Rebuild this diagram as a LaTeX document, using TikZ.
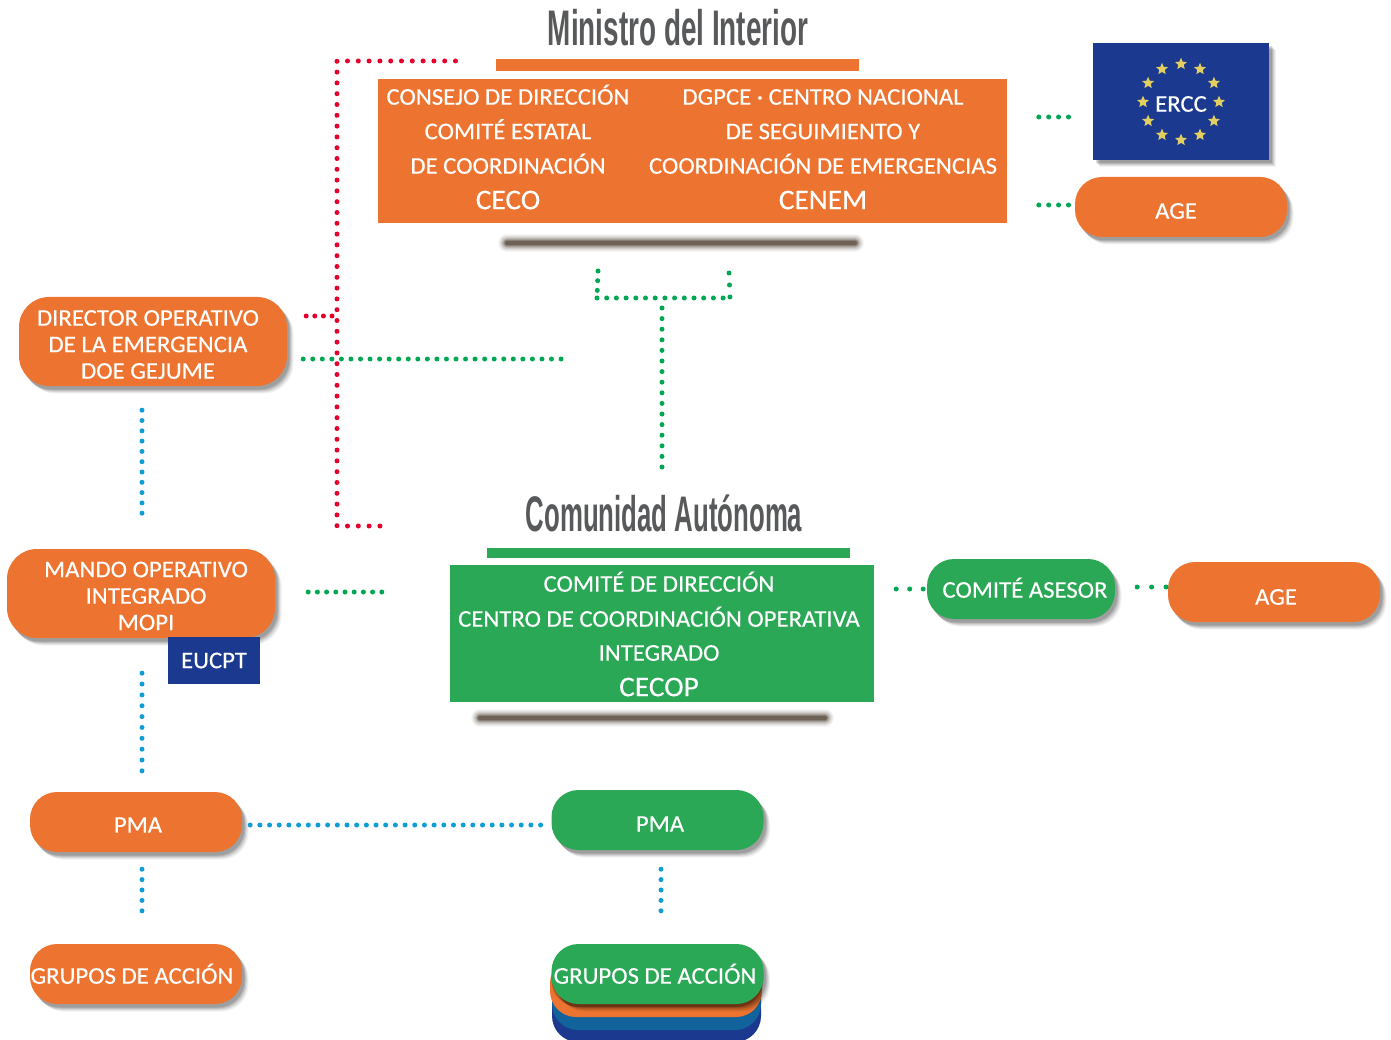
\documentclass[tikz,border=0pt]{standalone}
\usepackage{fontspec}
\usepackage{xcolor}
\setmainfont[FakeStretch=1.03,FakeBold=0.3]{Carlito}
\newfontfamily\titlefont[FakeStretch=0.558]{Liberation Sans}
\newfontfamily\titlefontca[FakeStretch=0.516]{Liberation Sans}
\usetikzlibrary{positioning, calc, shadows, shapes.geometric}
\definecolor{naranja}{HTML}{ED7430}
\definecolor{verde}{HTML}{2AA855}
\definecolor{azul}{HTML}{1B3A8F}
\definecolor{azulmedio}{HTML}{12639B}
\definecolor{puntoverde}{HTML}{00A651}
\definecolor{puntorojo}{HTML}{E4002B}
\definecolor{puntoazul}{HTML}{0E9DD5}
\definecolor{gristitulo}{HTML}{58595B}
\definecolor{estrella}{HTML}{E3CE60}
\tikzset{
  softshadow/.style={
    general shadow={fill=black,opacity=.05,shadow xshift=6.5pt,shadow yshift=-7.5pt},
    general shadow={fill=black,opacity=.07,shadow xshift=5.5pt,shadow yshift=-6.5pt},
    general shadow={fill=black,opacity=.09,shadow xshift=4.5pt,shadow yshift=-5.5pt},
    general shadow={fill=black,opacity=.11,shadow xshift=3.5pt,shadow yshift=-4.5pt},
    general shadow={fill=black,opacity=.13,shadow xshift=2.5pt,shadow yshift=-3.5pt}},
  pill/.style={rounded corners=27pt, text=white, minimum width=212pt, minimum height=60pt, inner sep=0pt, softshadow},
  bigpill/.style={pill, rounded corners=30pt, minimum width=268pt, minimum height=89pt},
  flat/.style={inner sep=0pt, text=white, text height=18pt, text depth=0pt, yshift=1.3pt},
  bignum/.style={flat, font=\fontsize{28.5}{30}\selectfont},
  tag/.style={inner sep=0pt, text=white, font=\fontsize{24}{26.5}\selectfont, yshift=1pt},
  titulo/.style={inner sep=0pt, text=gristitulo, yshift=1pt},
  dots/.style={dash pattern=on 0pt off #1, line cap=round, line width=5pt},
  reddots/.style={dots=10.8pt, puntorojo},
  greendots/.style={dots=9.7pt, puntoverde},
  bluedots/.style={dots=10.4pt, puntoazul},
}
\begin{document}
\begin{tikzpicture}[x=1pt, y=-1pt, every node/.style={font=\fontsize{24}{26.5}\selectfont, align=center}]
        \useasboundingbox (0,0) rectangle (1391,1040);

        % Ministerio
        \node (TituloMinistro) [titulo, font=\titlefont\bfseries\fontsize{50}{50}\selectfont] at (678,29) {Ministro del Interior};
        \node (BarraMinistro) [fill=naranja, minimum width=363pt, minimum height=12pt, inner sep=0pt] at (677.5,65) {};
        \node (Cenem) [fill=naranja, minimum width=629pt, minimum height=144pt, inner sep=0pt] at (692.5,151) {};
        \node (CecoA) [flat] at (508,97) {CONSEJO DE DIRECCIÓN};
        \node (CecoB) [flat] at (508,131.5) {COMITÉ ESTATAL};
        \node (CecoC) [flat] at (508,166) {DE COORDINACIÓN};
        \node (CecoD) [bignum] at (508,201.5) {CECO};
        \node (CenemA) [flat] at (823,97) {DGPCE · CENTRO NACIONAL};
        \node (CenemB) [flat] at (823,131.5) {DE SEGUIMIENTO Y};
        \node (CenemC) [flat] at (823,166) {COORDINACIÓN DE EMERGENCIAS};
        \node (CenemD) [bignum] at (823,201.5) {CENEM};

        % Sombras de las barras
        \foreach \w/\o in {18/.04, 16/.05, 14/.07, 12/.09, 10/.12, 8/.16, 6/.25, 4/.30} {
            \draw[line width=\w pt, line cap=round, color=black!75!brown, opacity=\o] (507,243) -- (855,243);
            \draw[line width=\w pt, line cap=round, color=black!75!brown, opacity=\o] (480,718) -- (825,718);
        }

        % ERCC
        \node (Ercc) [fill=azul, text=white, minimum width=176pt, minimum height=117pt, inner sep=0pt, softshadow] at (1181,101.5) {};
        \foreach \a in {0,30,...,330} {
            \node (Star\a) [star, star points=5, star point ratio=2.2, fill=estrella, minimum size=12.5pt, inner sep=0pt] at ($(1181,102)+(\a:38)$) {};
        }
        \node (ErccText) [flat] at (1181,104) {ERCC};
        \node (AgeTop) [pill, fill=naranja] at (1181,207) {};
        \node (AgeTopText) [flat] at (1176,211) {AGE};

        % Comunidad
        \node (TituloCA) [titulo, font=\titlefontca\bfseries\fontsize{50}{50}\selectfont] at (664,514) {Comunidad Autónoma};
        \node (BarraCA) [fill=verde, minimum width=363pt, minimum height=10pt, inner sep=0pt] at (668.5,553) {};
        \node (Cecop) [fill=verde, minimum width=424pt, minimum height=137pt, inner sep=0pt] at (662,633.5) {};
        \node (CecopA) [flat] at (659,584) {COMITÉ DE DIRECCIÓN};
        \node (CecopB) [flat] at (659,619) {CENTRO DE COORDINACIÓN OPERATIVA};
        \node (CecopC) [flat] at (659,653) {INTEGRADO};
        \node (CecopD) [bignum] at (659,688.5) {CECOP};
        \node (Asesor) [pill, fill=verde, minimum width=188pt] at (1021,589) {};
        \node (AsesorText) [flat] at (1025,590) {COMITÉ ASESOR};
        \node (AgeCA) [pill, fill=naranja] at (1274,592) {};
        \node (AgeCAText) [flat] at (1276,597) {AGE};

        % Izquierda
        \node (Doe) [bigpill, fill=naranja] at (153,341.5) {};
        \node (DoeText) [tag] at (148,345.5) {DIRECTOR OPERATIVO\\DE LA EMERGENCIA\\DOE GEJUME};
        \node (Mopi) [bigpill, fill=naranja] at (141,593.5) {};
        \node (MopiText) [tag] at (146,597) {MANDO OPERATIVO\\INTEGRADO\\MOPI};
        \node (Eucpt) [fill=azul, text=white, minimum width=92pt, minimum height=47pt, inner sep=0pt] at (214,660.5) {EUCPT};
        \node (PmaL) [pill, fill=naranja] at (136,822) {};
        \node (PmaLText) [flat] at (138,825) {PMA};
        \node (GruposL) [pill, fill=naranja] at (136,974) {};
        \node (GruposLText) [flat] at (132,976) {GRUPOS DE ACCIÓN};

        % Centro abajo
        \node (PmaR) [pill, fill=verde] at (657.5,820) {};
        \node (PmaRText) [flat] at (660,824) {PMA};
        \node (GruposC) [fill=azul, rounded corners=26pt, minimum width=209pt, minimum height=60pt] at (656.5,1012) {};
        \node (GruposB) [fill=azulmedio, rounded corners=26pt, minimum width=209pt, minimum height=60pt] at (656.5,1000) {};
        \node (GruposA) [fill=naranja, rounded corners=26pt, minimum width=212pt, minimum height=60pt] at (656,987) {};
        \node (GruposR) [pill, fill=verde, general shadow={fill=black,opacity=.25,shadow xshift=0pt,shadow yshift=-3pt}] at (657.5,974) {};
        \node (GruposRText) [flat] at (655,976) {GRUPOS DE ACCIÓN};

        % Conectores
        \coordinate (RedTop) at (455.5,61);
        \coordinate (RedBottom) at (382.5,526);
        \draw[reddots] (RedTop) -- (337,61) -- (337,526) -- (RedBottom);
        \draw[dots=8.6pt, puntorojo] ([xshift=19pt, yshift=25.5pt]Doe.east) -- (337,316);
        \draw[greendots, dots=9.55pt] ([xshift=16pt, yshift=-17.5pt]Doe.east) -- ++(259.5pt,0);
        \draw[greendots] (598,271) -- (597,298);
        \draw[greendots] (597,298) -- (730.5,298);
        \draw[greendots, dots=12pt] (729,273) -- (730,298);
        \draw[greendots, dots=10.6pt] (662,308) -- (662,467.5);
        \draw[greendots, dots=9.9pt] ([xshift=-54pt, yshift=-15.5pt]Ercc.west) -- ([xshift=-23.5pt, yshift=-15.5pt]Ercc.west);
        \draw[greendots, dots=9.9pt] ([xshift=-36pt, yshift=2pt]AgeTop.west) -- ([xshift=-5.5pt, yshift=2pt]AgeTop.west);
        \draw[bluedots, dots=10.3pt] ([xshift=-11pt, yshift=-24pt]Doe.south) -- ([xshift=-11pt, yshift=-127.5pt]Doe.south);
        \draw[bluedots, dots=10.85pt] ([xshift=1pt, yshift=-35pt]Mopi.south) -- ([xshift=6pt, yshift=20.5pt]PmaL.north);
        \draw[greendots, dots=9.2pt] ([xshift=33pt, yshift=1.5pt]Mopi.east) -- ([xshift=-67.5pt, yshift=41.5pt]Cecop.west);
        \draw[greendots, dots=13.5pt] ([xshift=22pt, yshift=44.5pt]Cecop.east) -- ([xshift=-3pt]Asesor.west);
        \draw[greendots, dots=14.4pt] ([xshift=22pt, yshift=2pt]Asesor.east) -- ([xshift=-1.5pt, yshift=5pt]AgeCA.west);
        \draw[bluedots, dots=9.68pt] ([xshift=8pt, yshift=-3pt]PmaL.east) -- ([xshift=-10pt, yshift=-5pt]PmaR.west);
        \draw[bluedots] ([xshift=6pt, yshift=-17pt]PmaL.south) -- ([xshift=6pt, yshift=32.5pt]GruposL.north);
        \draw[bluedots] ([xshift=3.5pt, yshift=-19pt]PmaR.south) -- ([xshift=3.5pt, yshift=32.5pt]GruposR.north);
    \end{tikzpicture}
\end{document}
